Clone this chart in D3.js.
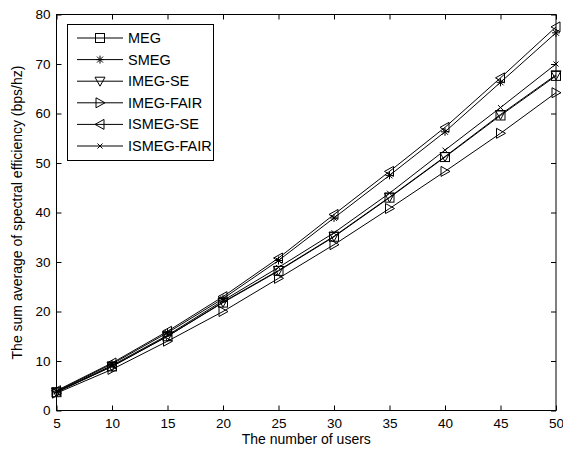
<!DOCTYPE html>
<html>
<head>
<meta charset="utf-8">
<script src="https://cdn.jsdelivr.net/npm/d3@7"></script>
<style>
  html, body { margin: 0; padding: 0; background: #fff; }
  svg { display: block; font-family: "Liberation Sans", Arial, sans-serif; }
</style>
</head>
<body>
<svg id="chart" width="563" height="452"></svg>
<script>
const users = [5, 10, 15, 20, 25, 30, 35, 40, 45, 50];
const xTicks = [5, 10, 15, 20, 25, 30, 35, 40, 45, 50];
const yTicks = [0, 10, 20, 30, 40, 50, 60, 70, 80];
const seriesNames = ["MEG", "SMEG", "IMEG-SE", "IMEG-FAIR", "ISMEG-SE", "ISMEG-FAIR"];
const seriesMarkers = ["square", "star", "triDown", "triRight", "triLeft", "cross"];
const MEG        = [3.7, 8.9, 15.0, 21.8, 28.2, 35.1, 43.0, 51.2, 59.6, 67.6];
const SMEG       = [3.9, 9.4, 15.7, 22.6, 30.3, 38.9, 47.5, 56.3, 66.3, 76.3];
const IMEG_SE    = [3.7, 8.9, 15.0, 21.9, 28.3, 35.2, 43.1, 51.3, 59.8, 67.8];
const IMEG_FAIR  = [3.5, 8.3, 14.0, 20.0, 26.7, 33.5, 40.8, 48.3, 56.0, 64.2];
const ISMEG_SE   = [4.0, 9.6, 16.0, 23.0, 30.8, 39.6, 48.3, 57.2, 67.2, 77.5];
const ISMEG_FAIR = [3.8, 9.1, 15.2, 22.2, 28.9, 35.9, 43.9, 52.6, 61.2, 70.0];
const seriesValues = [MEG, SMEG, IMEG_SE, IMEG_FAIR, ISMEG_SE, ISMEG_FAIR];

(function () {
const svg = d3.select("#chart");
const pL = 56.5, pR = 556, pT = 14.5, pB = 410.5;
const x = d3.scaleLinear().domain([5, 50]).range([pL, pR]);
const y = d3.scaleLinear().domain([0, 80]).range([pB, pT]);

// axes
const fontTick = "13.5px";
const gx = svg.append("g").attr("transform", `translate(0,${pB})`)
  .call(d3.axisBottom(x).tickValues(xTicks).tickFormat(d3.format("d")).tickSizeInner(-5).tickSizeOuter(0).tickPadding(8));
const gxt = svg.append("g").attr("transform", `translate(0,${pT})`)
  .call(d3.axisTop(x).tickValues(xTicks).tickFormat("").tickSizeInner(-5).tickSizeOuter(0));
const gy = svg.append("g").attr("transform", `translate(${pL},0)`)
  .call(d3.axisLeft(y).tickValues(yTicks).tickFormat(d3.format("d")).tickSizeInner(-5).tickSizeOuter(0).tickPadding(6));
const gyr = svg.append("g").attr("transform", `translate(${pR},0)`)
  .call(d3.axisRight(y).tickValues(yTicks).tickFormat("").tickSizeInner(-5).tickSizeOuter(0));
[gx, gxt, gy, gyr].forEach(g => {
  g.select(".domain").remove();
  g.selectAll("line").attr("stroke", "#000").attr("stroke-width", 1);
  g.selectAll("text").attr("fill", "#000").style("font-size", fontTick)
    .style("font-family", "'Liberation Sans', Arial, sans-serif");
});
svg.append("rect").attr("x", pL).attr("y", pT).attr("width", pR - pL).attr("height", pB - pT)
  .attr("fill", "none").attr("stroke", "#000").attr("stroke-width", 1);

// marker drawing
function drawMarker(g, type) {
  let el;
  if (type === "square") {
    el = g.append("rect").attr("x", -4.5).attr("y", -4.5).attr("width", 9).attr("height", 9);
  } else if (type === "star") {
    el = g.append("path").attr("d", "M-4,0H4M0,-4V4M-3,-3L3,3M-3,3L3,-3");
  } else if (type === "triDown") {
    el = g.append("path").attr("d", "M-5,-4L5,-4L0,5Z");
  } else if (type === "triRight") {
    el = g.append("path").attr("d", "M-4,-5L-4,5L5,0Z");
  } else if (type === "triLeft") {
    el = g.append("path").attr("d", "M4,-5L4,5L-5,0Z");
  } else if (type === "cross") {
    el = g.append("path").attr("d", "M-2.5,-2.5L2.5,2.5M-2.5,2.5L2.5,-2.5");
  }
  el.attr("fill", "none").attr("stroke", "#000").attr("stroke-width", 1);
}

const line = d3.line().x((d, i) => x(users[i])).y(d => y(d));
seriesValues.forEach((vals, si) => {
  svg.append("path").attr("d", line(vals)).attr("fill", "none").attr("stroke", "#000").attr("stroke-width", 1);
  vals.forEach((v, i) => {
    const g = svg.append("g").attr("transform", `translate(${x(users[i])},${y(v)})`);
    drawMarker(g, seriesMarkers[si]);
  });
});

// legend
const lg = svg.append("g");
lg.append("rect").attr("x", 67.5).attr("y", 24.5).attr("width", 146).attr("height", 136)
  .attr("fill", "#fff").attr("stroke", "#000").attr("stroke-width", 1);
seriesNames.forEach((name, i) => {
  const cy = 38 + i * 21.6;
  lg.append("line").attr("x1", 77).attr("x2", 123).attr("y1", cy).attr("y2", cy)
    .attr("stroke", "#000").attr("stroke-width", 1);
  const g = lg.append("g").attr("transform", `translate(100,${cy})`);
  drawMarker(g, seriesMarkers[i]);
  lg.append("text").attr("x", 128).attr("y", cy + 5).text(name)
    .style("font-size", "14.5px").attr("fill", "#000");
});

// axis titles
svg.append("text").attr("x", (pL + pR) / 2).attr("y", 444).attr("text-anchor", "middle")
  .style("font-size", "14px").text("The number of users");
svg.append("text").attr("transform", `translate(22,${(pT + pB) / 2}) rotate(-90)`)
  .attr("text-anchor", "middle").style("font-size", "14px")
  .text("The sum average of spectral efficiency (bps/hz)");
})();
</script>
</body>
</html>
